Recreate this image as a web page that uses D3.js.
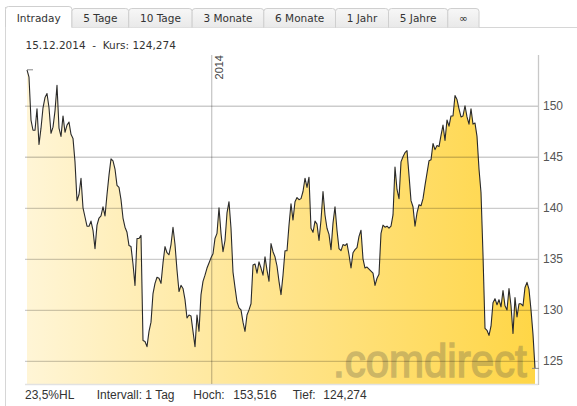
<!DOCTYPE html>
<html><head><meta charset="utf-8">
<script src="https://cdn.jsdelivr.net/npm/d3@7"></script>
<style>body{margin:0;background:#fff}svg{display:block}</style>
</head><body>
<svg id="c" width="577" height="406"></svg>
<script>
// ---------- data ----------
const tabs = ["Intraday","5 Tage","10 Tage","3 Monate","6 Monate","1 Jahr","5 Jahre","\u221E"];
const titleText = "15.12.2014  -  Kurs: 124,274";
const yTicks = [125,130,135,140,145,150];
const yearLabels = ["2014"];
const yearIndex = [92.35];          // position of 1 Jan 2014 in the daily series
const footerLabels = ["23,5%HL","Intervall: 1 Tag","Hoch:","153,516","Tief:","124,274"];
const watermark = ".comdirect";
const prices = [
153.52,152.8,148.6,147.6,147.6,149.7,146.2,147.8,149.8,150.8,151.2,149.8,147.3,147.9,149.5,152.0,147.8,147.0,149.0,147.4,
148.1,148.4,147.2,146.8,144.5,140.7,141.3,142.9,140.0,139.1,138.2,138.2,138.7,137.8,136.0,138.3,139.0,139.2,140.1,139.2,
141.3,143.2,144.8,144.6,143.8,142.2,142.0,140.8,139.0,138.1,
137.6,136.3,136.2,134.5,132.4,137.0,137.0,137.3,127.0,126.9,126.4,127.9,128.8,131.6,132.6,133.2,133.1,132.6,134.6,136.2,
135.6,135.4,136.4,138.1,136.4,133.9,131.8,132.4,132.1,131.0,129.2,129.5,129.4,127.9,126.4,129.5,127.9,131.5,132.8,133.4,
134.1,134.6,135.1,135.5,137.0,137.5,140.0,137.5,135.7,136.8,139.5,140.6,
138.0,133.7,132.2,130.8,130.2,130.0,128.8,127.9,129.5,130.0,130.6,134.4,134.5,133.6,134.7,134.1,133.4,135.2,133.9,132.8,
136.5,135.7,135.2,134.3,132.8,131.5,133.4,135.8,135.8,138.3,140.4,138.8,140.6,141.0,140.8,140.9,141.6,142.9,142.0,143.0,
138.0,137.6,138.7,138.4,136.8,138.8,141.6,139.3,138.0,137.4,135.9,138.5,
140.1,137.8,136.0,135.8,136.4,136.3,136.5,135.4,134.1,135.6,135.9,136.1,137.2,137.8,135.0,134.1,134.2,134.0,133.8,133.6,
132.4,133.1,133.5,137.5,138.3,138.1,138.2,138.0,138.2,139.3,144.0,141.8,140.9,144.5,145.0,145.4,145.6,143.2,140.7,140.1,
138.2,139.5,140.3,140.2,140.9,142.2,143.4,144.6,144.7,146.3,145.7,
146.1,146.0,147.1,148.1,146.6,148.6,148.0,149.0,149.0,151.0,150.6,149.7,148.9,149.0,150.0,148.9,148.2,149.7,148.2,148.3,
147.0,143.8,141.5,135.4,128.2,128.0,127.5,128.4,130.7,131.1,130.5,131.0,130.3,131.9,130.4,130.0,132.1,130.4,127.7,131.2,
129.3,130.6,130.6,130.4,132.2,132.7,132.0,130.0,127.6,124.27
];

// ---------- layout ----------
const svg = d3.select("#c");
const W = 577, H = 406;
const plot = {left: 25, right: 538, top: 55, bottom: 384, x0: 27, x1: 535};

const x = d3.scaleLinear().domain([0, prices.length - 1]).range([plot.x0, plot.x1]);
const y = d3.scaleLinear().domain([122.74, 154.97]).range([plot.bottom, plot.top]);

const defs = svg.append("defs");
const g1 = defs.append("linearGradient").attr("id","fillGrad")
  .attr("gradientUnits","userSpaceOnUse").attr("x1",plot.x0).attr("x2",plot.x1).attr("y1",0).attr("y2",0);
g1.append("stop").attr("offset","0").attr("stop-color","#fff5d6");
g1.append("stop").attr("offset","0.5").attr("stop-color","#ffe48c");
g1.append("stop").attr("offset","1").attr("stop-color","#ffd646");

const tg = defs.append("linearGradient").attr("id","tabGrad").attr("x1",0).attr("x2",0).attr("y1",0).attr("y2",1);
tg.append("stop").attr("offset","0").attr("stop-color","#f7f7f7");
tg.append("stop").attr("offset","1").attr("stop-color","#e9e9e9");

// panel border
svg.append("line").attr("x1",5.5).attr("x2",5.5).attr("y1",7).attr("y2",H).attr("stroke","#d6d6d6");
svg.append("line").attr("x1",5.5).attr("x2",W).attr("y1",27.5).attr("y2",27.5).attr("stroke","#d6d6d6");

// tabs
const tabFont = "10.5px 'DejaVu Sans', Verdana, sans-serif";
let tx = 5.5;
tabs.forEach((t, i) => {
  const tmp = svg.append("text").style("font", tabFont).text(t);
  const w = tmp.node().getComputedTextLength() + 22.5;
  tmp.remove();
  const active = i === 0;
  const top = active ? 6.5 : 8.5, bot = 27.5, r = 3;
  const p = d3.path();
  p.moveTo(tx, bot); p.lineTo(tx, top + r);
  p.quadraticCurveTo(tx, top, tx + r, top);
  p.lineTo(tx + w - r, top);
  p.quadraticCurveTo(tx + w, top, tx + w, top + r);
  p.lineTo(tx + w, bot);
  svg.append("path").attr("d", p.toString())
    .attr("fill", active ? "#fff" : "url(#tabGrad)").attr("stroke", "#cfcfcf");
  if (active) svg.append("line").attr("x1", tx + 0.5).attr("x2", tx + w - 0.5)
    .attr("y1", bot).attr("y2", bot).attr("stroke", "#fff").attr("stroke-width", 1.5);
  svg.append("text").attr("x", tx + w / 2).attr("y", 22).attr("text-anchor","middle")
    .style("font", tabFont).attr("fill","#333").text(t);
  tx += w;
});

// title
svg.append("text").attr("x", 25.5).attr("y", 48.5).style("font", tabFont).attr("fill","#333")
  .attr("xml:space","preserve").style("white-space","pre").text(titleText);

// area
const area = d3.area().x((d,i)=>x(i)).y0(plot.bottom).y1(d=>y(d));
svg.append("path").datum(prices).attr("d", area).attr("fill","url(#fillGrad)");

// watermark
svg.append("g").attr("opacity",0.3)
  .append("text").attr("transform","translate(333,377) scale(1,1.12)")
  .style("font","42px 'Liberation Sans', Arial, sans-serif")
  .attr("fill","#5e5a48").attr("stroke","#5e5a48").attr("stroke-width",1.4)
  .text(watermark);

// grid + right axis
const axis = d3.axisRight(y).tickValues(yTicks).tickSize(-(plot.right - plot.left)).tickPadding(5)
  .tickFormat(d3.format("d"));
const ax = svg.append("g").attr("transform", `translate(${plot.right},0)`).call(axis);
ax.select(".domain").remove();
ax.selectAll(".tick line").attr("stroke","#000").attr("stroke-opacity",0.2).attr("stroke-width",1.3);
ax.selectAll(".tick text").attr("fill","#555").style("font","12px 'Liberation Sans', Arial, sans-serif");
svg.append("line").attr("x1",plot.right+0.5).attr("x2",plot.right+0.5).attr("y1",plot.top).attr("y2",plot.bottom+1)
  .attr("stroke","#c8c8c8").attr("stroke-width",1.3);
svg.append("line").attr("x1",plot.left).attr("x2",plot.right).attr("y1",plot.bottom+0.5).attr("y2",plot.bottom+0.5)
  .attr("stroke","#e2e2e2").attr("stroke-width",1.5);

// year line
yearIndex.forEach((yi, k) => {
  const xx = x(yi);
  svg.append("line").attr("x1",xx).attr("x2",xx).attr("y1",plot.top).attr("y2",plot.bottom)
    .attr("stroke","#000").attr("stroke-opacity",0.22).attr("stroke-width",1.3);
  svg.append("text").attr("transform",`translate(${xx+11.3},${plot.top}) rotate(-90)`)
    .attr("text-anchor","end").style("font","11px 'Liberation Sans', Arial, sans-serif")
    .attr("fill","#444").text(yearLabels[k]);
});

// line
const line = d3.line().x((d,i)=>x(i)).y(d=>y(d));
svg.append("path").datum(prices).attr("d", line).attr("fill","none")
  .attr("stroke","#2a2a2a").attr("stroke-width",1.1).attr("stroke-linejoin","round");

// high / low markers
const iMax = d3.maxIndex(prices), iMin = d3.minIndex(prices);
svg.append("line").attr("x1",x(iMax)).attr("x2",x(iMax)+6).attr("y1",y(prices[iMax])).attr("y2",y(prices[iMax]))
  .attr("stroke","#888");
svg.append("line").attr("x1",x(iMin)-3).attr("x2",x(iMin)+4).attr("y1",y(prices[iMin])).attr("y2",y(prices[iMin]))
  .attr("stroke","#888");

// footer
const footX = [25, 96.7, 193.3, 233.3, 292.7, 323.3];
footerLabels.forEach((t, i) => {
  svg.append("text").attr("x", footX[i]).attr("y", 399)
    .style("font","12px 'Liberation Sans', Arial, sans-serif").attr("fill","#333").text(t);
});
</script>
</body></html>
